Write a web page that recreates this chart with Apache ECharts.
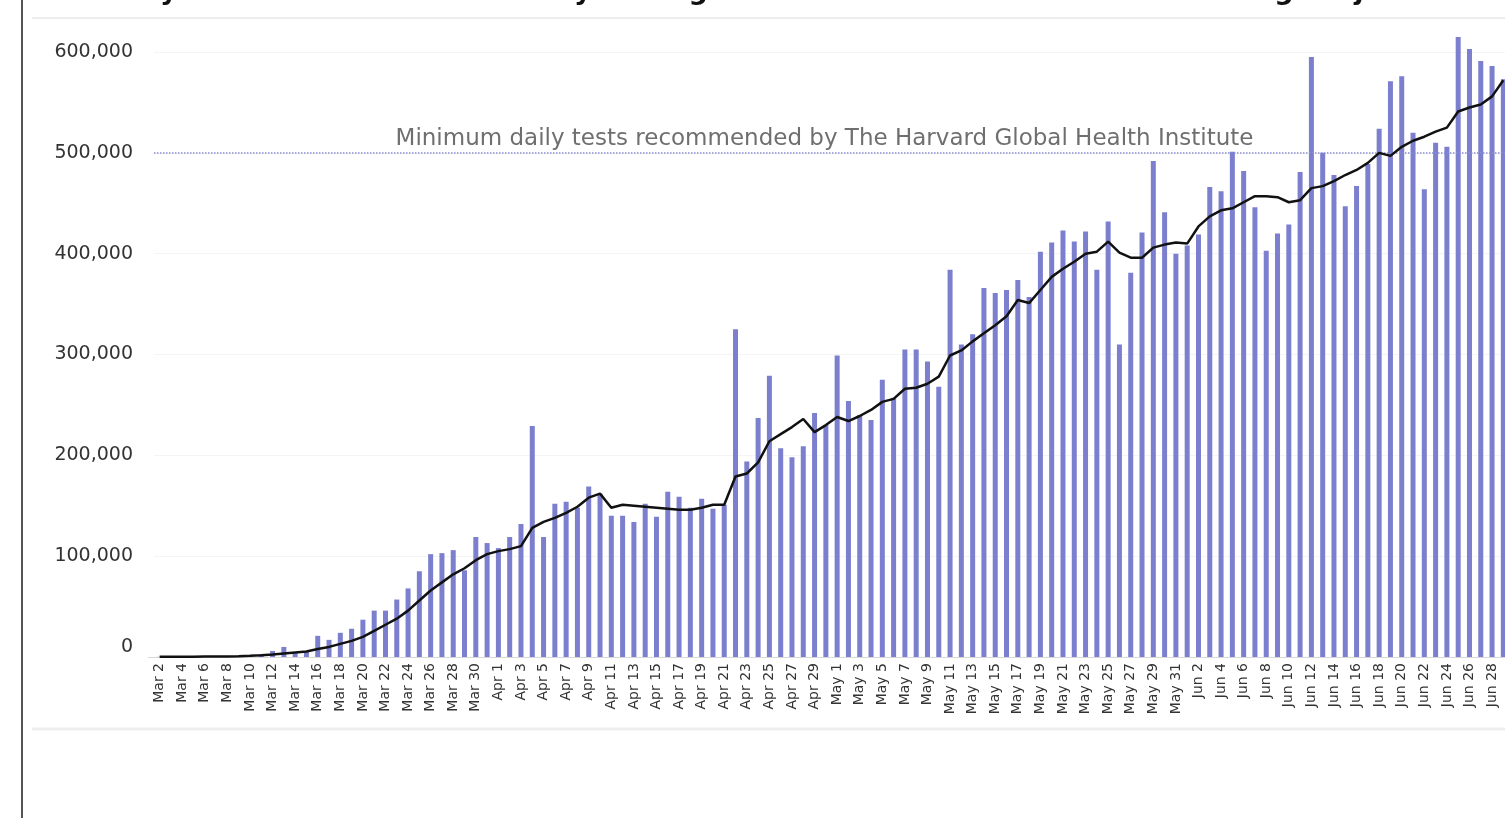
<!DOCTYPE html>
<html>
<head>
<meta charset="utf-8">
<script src="https://cdn.jsdelivr.net/npm/echarts@6/dist/echarts.min.js"></script>
<style>
  html, body { margin: 0; padding: 0; background: #fff; overflow: hidden; }
  #echart-tests { width: 1515px; height: 818px; }
</style>
</head>
<body>
<div id="echart-tests"></div>
<script>
// months shown on the x axis and the days used from each (Mar 2 .. Jun 29)
const months = ['Mar', 'Apr', 'May', 'Jun']
const firstDay = [2, 1, 1, 1]
const lastDay = [31, 30, 31, 29]

const yTicks = [0, 100000, 200000, 300000, 400000, 500000, 600000]

// daily tests, Mar 2 .. Jun 29
const dailyTests = [
  200, 300, 300, 400, 500, 600, 800, 1200, 2000, 3000,
  6000, 10000, 5000, 5000, 21000, 17000, 24000, 28000, 37000, 46000,
  46000, 57000, 68000, 85000, 102000, 103000, 106000, 86000, 119000, 113000,
  // Apr
  108000, 119000, 132000, 229000, 119000, 152000, 154000, 148000, 169000, 162000,
  140000, 140000, 134000, 152000, 139000, 164000, 159000, 148000, 157000, 147000,
  151000, 325000, 194000, 237000, 279000, 207000, 198000, 209000, 242000, 230000,
  // May
  299000, 254000, 240000, 235000, 275000, 257000, 305000, 305000, 293000, 268000,
  384000, 310000, 320000, 366000, 361000, 364000, 374000, 357000, 402000, 411000,
  423000, 412000, 422000, 384000, 432000, 310000, 381000, 421000, 492000, 441000,
  400000,
  // Jun
  408000, 419000, 466000, 462000, 501000, 482000, 446000, 403000, 420000, 429000,
  481000, 595000, 500000, 478000, 447000, 467000, 489000, 524000, 571000, 576000,
  520000, 464000, 510000, 506000, 615000, 603000, 591000, 586000, 573000
]

// 7-day average, Mar 2 .. Jun 29
const avgTests = [
  200, 200, 300, 300, 400, 500, 600, 800, 1200, 1800,
  2500, 3500, 4500, 5500, 8000, 10000, 13000, 16000, 20000, 26000,
  32000, 38000, 46000, 56000, 66000, 74000, 82000, 88000, 96000, 102000,
  // Apr
  105000, 107000, 110000, 128000, 134000, 138000, 143000, 149000, 158000, 162000,
  148000, 151000, 150000, 149000, 148000, 147000, 146000, 146000, 148000, 151000,
  151000, 179000, 182000, 193000, 214000, 221000, 228000, 236000, 223000, 230000,
  // May
  238000, 234000, 239000, 245000, 253000, 256000, 266000, 267000, 271000, 278000,
  299000, 304000, 313000, 321000, 329000, 338000, 354000, 351000, 364000, 377000,
  385000, 392000, 400000, 402000, 412000, 401000, 396000, 396000, 406000, 409000,
  411000,
  // Jun
  410000, 427000, 437000, 443000, 445000, 451000, 457000, 457000, 456000, 451000,
  453000, 465000, 467000, 472000, 478000, 483000, 490000, 500000, 497000, 506000,
  512000, 516000, 521000, 525000, 541000, 545000, 548000, 556000, 572000
]

const harvardMin = 500000
const harvardText = 'Minimum daily tests recommended by The Harvard Global Health Institute'

const days = []
months.forEach((m, k) => {
  for (let d = firstDay[k]; d <= lastDay[k]; d++) days.push(m + ' ' + d)
})

const font = 'DejaVu Sans, Verdana, sans-serif'
const chart = echarts.init(document.getElementById('echart-tests'))

const option = {
  animation: false,
  textStyle: { fontFamily: font },
  grid: { // 图表位置
    left: 154,
    right: 6,
    top: 52,
    bottom: 161,
    containLabel: false
  },
  graphic: [
    { type: 'line', shape: { x1: 22, y1: 0, x2: 22, y2: 818 }, style: { stroke: '#555', lineWidth: 2 } },
    { type: 'line', shape: { x1: 32, y1: 18, x2: 1515, y2: 18 }, style: { stroke: '#ececec', lineWidth: 2 } },
    { type: 'line', shape: { x1: 32, y1: 729, x2: 1515, y2: 729 }, style: { stroke: '#eeeeee', lineWidth: 3 } },
    { type: 'line', shape: { x1: 148, y1: 657.5, x2: 154, y2: 657.5 }, style: { stroke: '#d8d8d8', lineWidth: 1 } },
    { type: 'text', left: 50, top: -22, style: { text: 'US Daily COVID-19 Tests with 7-Day Average Line', font: 'bold 27px ' + font, fill: '#111' } },
    { type: 'text', left: 1060, top: -22, style: { text: 'COVID Tracking Project', font: 'bold 27px ' + font, fill: '#111' } }
  ],
  xAxis: {
    type: 'category',
    data: days,
    boundaryGap: true,
    axisLine: { lineStyle: { color: '#d8d8d8', width: 1 } },
    axisTick: { show: false },
    axisLabel: {
      interval: 1,
      rotate: 90,
      margin: 6,
      fontSize: 14,
      color: '#333'
    }
  },
  yAxis: {
    type: 'value',
    min: 0,
    max: 600000,
    interval: 100000,
    axisLine: { show: false },
    axisTick: { show: false },
    splitLine: { lineStyle: { color: '#f4f4f4', width: 1 } },
    axisLabel: {
      margin: 21,
      fontSize: 19,
      color: '#333',
      formatter: function (v) {
        if (v === yTicks[0]) return '{z|0}'
        return v.toLocaleString('en-US')
      },
      rich: {
        z: { fontSize: 19, color: '#333', padding: [0, 0, 20, 0] }
      }
    }
  },
  series: [
    {
      name: 'Daily tests',
      type: 'bar',
      data: dailyTests,
      barWidth: 5,
      clip: false,
      itemStyle: { color: '#7b7fcd' },
      markLine: {
        silent: true,
        symbol: 'none',
        lineStyle: { type: 'dotted', color: '#8a8dd2', width: 1.5 },
        label: {
          show: true,
          position: 'insideMiddleTop',
          formatter: harvardText,
          fontSize: 23,
          color: '#6f6f6f',
          distance: 2,
          offset: [-7, 0]
        },
        data: [{ yAxis: harvardMin }]
      }
    },
    {
      name: '7-day average',
      type: 'line',
      data: avgTests,
      clip: false,
      symbol: 'none',
      smooth: false,
      lineStyle: { color: '#111', width: 2.5 },
      itemStyle: { color: '#111' },
      z: 5
    }
  ]
}
chart.setOption(option)
window.addEventListener('resize', () => {
  chart.resize()
})
</script>
</body>
</html>
